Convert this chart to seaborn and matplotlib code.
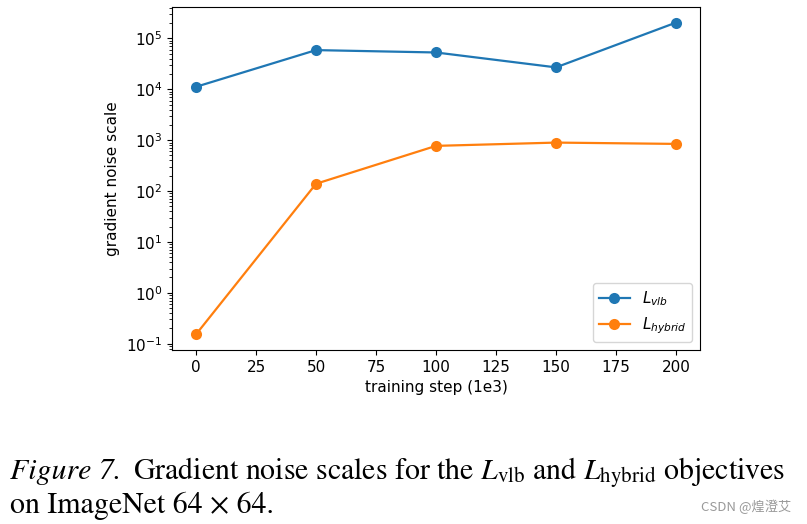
import matplotlib
matplotlib.use("Agg")

import matplotlib.pyplot as plt
import seaborn as sns


# =========================
# DATA
# =========================

steps = [0, 50, 100, 150, 200]

vlb_scale = [1.12e4, 5.9e4, 5.3e4, 2.7e4, 2.05e5]

hybrid_scale = [0.152, 139, 773, 897, 845]

series_labels = [r"$L_{vlb}$", r"$L_{hybrid}$"]

xtick_values = [0, 25, 50, 75, 100, 125, 150, 175, 200]


# =========================
# FIGURE
# =========================

plt.rcParams["mathtext.fontset"] = "dejavusans"

fig = plt.figure(figsize=(8.07, 5.24), dpi=100)

ax = fig.add_axes([172 / 807, 174 / 524, 528 / 807, 343 / 524])

sns.lineplot(
    x=steps,
    y=vlb_scale,
    marker="o",
    markersize=8,
    markeredgewidth=0,
    linewidth=1.6,
    color="#1f77b4",
    label=series_labels[0],
    ax=ax
)

sns.lineplot(
    x=steps,
    y=hybrid_scale,
    marker="o",
    markersize=8,
    markeredgewidth=0,
    linewidth=1.6,
    color="#ff7f0e",
    label=series_labels[1],
    ax=ax
)

ax.set_yscale("log")

ax.set_xticks(xtick_values)

ax.tick_params(labelsize=11)

ax.set_xlabel("training step (1e3)", fontsize=11)
ax.set_ylabel("gradient noise scale", fontsize=11)

ax.legend(loc="lower right", fontsize=11)


# =========================
# CAPTION
# =========================

caption_font = dict(
    family="STIXGeneral",
    math_fontfamily="stix",
    fontsize=21.5,
    va="baseline",
    ha="left"
)

fig.text(
    10 / 807,
    1 - 479 / 524,
    "Figure 7.",
    style="italic",
    **caption_font
)

fig.text(
    133 / 807,
    1 - 479 / 524,
    r"Gradient noise scales for the $L_{\rm vlb}$ and $L_{\rm hybrid}$ objectives",
    **caption_font
)

fig.text(
    10 / 807,
    1 - 513 / 524,
    "on ImageNet 64 × 64.",
    **caption_font
)

fig.text(
    791 / 807,
    1 - 507 / 524,
    "CSDN @煌澄艾",
    family=["Noto Sans CJK SC", "DejaVu Sans"],
    fontsize=9.5,
    color="#999999",
    va="center",
    ha="right"
)

fig.savefig("out.png", dpi=100)

plt.close()
